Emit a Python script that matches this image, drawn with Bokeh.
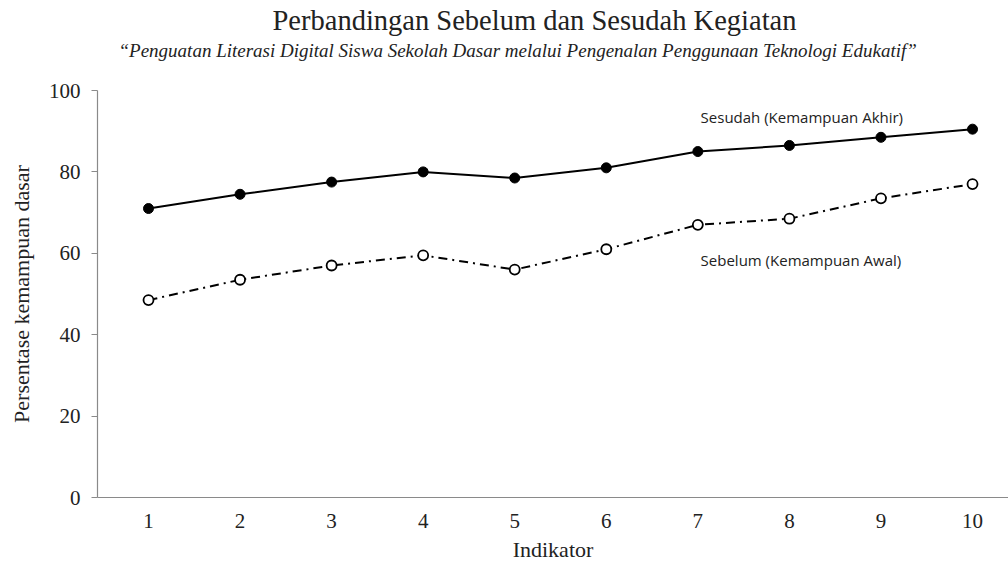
from bokeh.plotting import figure
from bokeh.models import Range1d, Title, Label, FixedTicker
from bokeh.embed import file_html
from bokeh.resources import INLINE

indikator = [1, 2, 3, 4, 5, 6, 7, 8, 9, 10]
sesudah = [71, 74.5, 77.5, 80, 78.5, 81, 85, 86.5, 88.5, 90.5]
sebelum = [48.5, 53.5, 57, 59.5, 56, 61, 67, 68.5, 73.5, 77]
y_ticks = [0, 20, 40, 60, 80, 100]

SERIF = "Liberation Serif"
SANS = "Open Sans"
TXT = "#222222"
AX = "#8a8a8a"

p = figure(frame_width=911, frame_height=407, output_backend="svg", toolbar_location=None,
           x_range=Range1d(0.443, 10.393), y_range=Range1d(0, 100),
           min_border_left=97, min_border_right=0, min_border_top=60, min_border_bottom=40)
p.outline_line_color = None
p.xgrid.grid_line_color = None
p.ygrid.grid_line_color = None
p.background_fill_color = "white"
p.border_fill_color = "white"

# axes
p.xaxis.ticker = FixedTicker(ticks=indikator)
p.yaxis.ticker = FixedTicker(ticks=y_ticks)
for ax in (p.xaxis[0], p.yaxis[0]):
    ax.axis_line_color = AX
    ax.axis_line_width = 1.2
    ax.major_label_text_font = SERIF
    ax.major_label_text_font_size = "21px"
    ax.major_label_text_color = TXT
    ax.axis_label_text_font = SERIF
    ax.axis_label_text_font_size = "22px"
    ax.axis_label_text_font_style = "normal"
    ax.axis_label_text_color = TXT
    ax.minor_tick_line_color = None
p.xaxis.major_tick_line_color = None
p.xaxis.major_label_standoff = 10
p.xaxis.axis_label = "Indikator"
p.xaxis.axis_label_standoff = 6
p.yaxis.major_tick_line_color = AX
p.yaxis.major_tick_in = 0
p.yaxis.major_tick_out = 6
p.yaxis.major_label_standoff = 11
p.yaxis.axis_label = "Persentase kemampuan dasar"
p.yaxis.axis_label_standoff = 12

# series
p.line(indikator, sebelum, line_color="black", line_width=2, line_dash="9 5 2 5")
p.scatter(indikator, sebelum, marker="circle", size=10, fill_color="white",
          line_color="black", line_width=1.8)
p.line(indikator, sesudah, line_color="black", line_width=2)
p.scatter(indikator, sesudah, marker="circle", size=10, fill_color="black",
          line_color="black")

# series labels
p.add_layout(Label(x=7.03, y=93.4, text="Sesudah (Kemampuan Akhir)", text_font=SANS,
                   text_font_size="15px", text_color=TXT, text_baseline="middle"))
p.add_layout(Label(x=7.03, y=58.3, text="Sebelum (Kemampuan Awal)", text_font=SANS,
                   text_font_size="15px", text_color=TXT, text_baseline="middle"))

# titles (spacer first, closest to the frame)
p.add_layout(Title(text=" ", text_font=SERIF, text_font_size="18px", standoff=8), "above")
p.add_layout(Title(text="\u201cPenguatan Literasi Digital Siswa Sekolah Dasar melalui Pengenalan Penggunaan Teknologi Edukatif\u201d",
                   text_font=SERIF, text_font_size="19px", text_font_style="italic",
                   text_color=TXT, align="left", offset=21, standoff=0), "above")
p.add_layout(Title(text="Perbandingan Sebelum dan Sesudah Kegiatan",
                   text_font=SERIF, text_font_size="28.5px", text_font_style="normal",
                   text_color=TXT, align="left", offset=175, standoff=4), "above")

open("out.html", "w").write(file_html(p, INLINE))
